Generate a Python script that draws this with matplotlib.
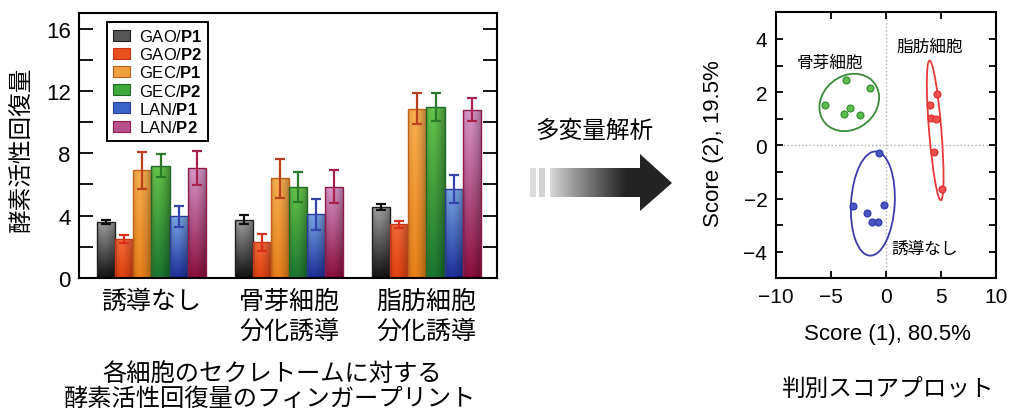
import numpy as np
import matplotlib
matplotlib.use('Agg')
import matplotlib.pyplot as plt
from matplotlib.patches import Ellipse, Polygon, Rectangle, Patch
from matplotlib.colors import to_rgb
from matplotlib.ticker import MultipleLocator

plt.rcParams['font.family'] = ['Liberation Sans', 'Noto Sans CJK JP']
plt.rcParams['mathtext.fontset'] = 'custom'
plt.rcParams['mathtext.rm'] = 'Liberation Sans'
plt.rcParams['mathtext.bf'] = 'Liberation Sans:bold'

# bar chart: enzyme activity recovery per secretome
conditions = ['誘導なし', '骨芽細胞\n分化誘導', '脂肪細胞\n分化誘導']
probes = ['GAO/$\\mathbf{P1}$', 'GAO/$\\mathbf{P2}$', 'GEC/$\\mathbf{P1}$',
          'GEC/$\\mathbf{P2}$', 'LAN/$\\mathbf{P1}$', 'LAN/$\\mathbf{P2}$']
recovery = [
    [3.6, 2.5, 6.9, 7.2, 3.95, 7.05],
    [3.75, 2.3, 6.4, 5.85, 4.1, 5.85],
    [4.55, 3.45, 10.85, 11.0, 5.7, 10.8],
]
recovery_err = [
    [0.15, 0.25, 1.2, 0.75, 0.65, 1.1],
    [0.28, 0.55, 1.25, 0.95, 1.0, 1.05],
    [0.2, 0.22, 1.0, 0.9, 0.9, 0.75],
]
top_colors = ['#a0a0a0', '#f46a38', '#f8b050', '#66c64a', '#78a8e6', '#d898cc']
bottom_colors = ['#121212', '#e0400f', '#e8801a', '#1a7630', '#1e2e9c', '#8c0e3c']
legend_colors = ['#555555', '#e8501e', '#f0a040', '#3ea83a', '#3a64c8', '#b8508c']
edge_colors = ['#202020', '#c83818', '#c0601a', '#1e6a26', '#2a3a96', '#901a48']
err_colors = ['#101010', '#d8301c', '#b8401c', '#2a7a2a', '#3444a8', '#a8204c']

# discriminant score plot
osteo_x = [-3.6, -1.45, -5.48, -3.3, -3.76, -2.39]
osteo_y = [2.46, 2.14, 1.52, 1.39, 1.18, 1.14]
adipo_x = [4.6, 4.03, 4.06, 4.55, 4.36, 5.12]
adipo_y = [1.94, 1.52, 1.04, 1.0, -0.24, -1.66]
none_x = [-0.64, -0.15, -3.0, -1.7, -1.27, -0.67]
none_y = [-0.29, -2.23, -2.29, -2.53, -2.89, -2.89]
# (center x, center y, width, height, angle)
osteo_ell = (-3.32, 1.61, 5.43, 2.12, 4.6)
adipo_ell = (4.48, 0.56, 5.35, 1.10, -78.5)
none_ell = (-1.18, -2.19, 4.18, 3.72, 40)

W, H = 1009, 410
fig = plt.figure(figsize=(W / 100, H / 100), dpi=100)


def fx(px):
    return px / W


def fy(py):
    return 1 - py / H


def gradient_fill(ax, patch, top, bottom):
    x0, y0 = patch.get_x(), patch.get_y()
    w, h = patch.get_width(), patch.get_height()
    v = np.linspace(1, 0, 64)[:, None, None]
    col = np.array(to_rgb(bottom)) * (1 - v) + np.array(to_rgb(top)) * v
    u = np.linspace(0, 1, 32)[None, :, None]
    shade = 1 - 0.3 * (np.abs(u - 0.35) / 0.65) ** 1.5
    img = np.clip(col * shade, 0, 1)
    im = ax.imshow(img, extent=(x0, x0 + w, y0, y0 + h), aspect='auto',
                   origin='upper', interpolation='bilinear', zorder=1)
    im.set_clip_path(patch)


# ---- left: bar chart ----
ax = fig.add_axes([fx(79), fy(279), fx(497 - 79), (279 - 14) / H])
n = len(probes)
bw = 0.132
xs = np.arange(len(conditions))
for j in range(n):
    vals = [recovery[i][j] for i in range(len(conditions))]
    errs = [recovery_err[i][j] for i in range(len(conditions))]
    pos = xs + (j - (n - 1) / 2) * bw
    bars = ax.bar(pos, vals, width=bw, facecolor='none',
                  edgecolor=edge_colors[j], linewidth=1.0, zorder=2)
    for b in bars:
        gradient_fill(ax, b, top_colors[j], bottom_colors[j])
    ax.errorbar(pos, vals, yerr=errs, fmt='none', ecolor=err_colors[j],
                elinewidth=1.6, capsize=3.5, capthick=1.6, zorder=3)

ax.set_xlim(-0.527, 2.513)
ax.set_ylim(0, 17)
ax.yaxis.set_major_locator(MultipleLocator(4))
ax.yaxis.set_minor_locator(MultipleLocator(2))
ax.tick_params(axis='y', which='both', direction='in', length=10, width=1.3,
               right=True, labelsize=16, pad=6)
ax.set_xticks(xs)
ax.set_xticklabels(conditions, fontsize=18, linespacing=1.3)
ax.tick_params(axis='x', length=0, pad=8)
for s in ax.spines.values():
    s.set_linewidth(1.5)

handles = [Patch(facecolor=c, edgecolor=e, linewidth=0.8)
           for c, e in zip(legend_colors, edge_colors)]
leg = ax.legend(handles, probes, loc='upper left', bbox_to_anchor=(0.067, 0.965),
                borderaxespad=0, fontsize=12, handlelength=1.0, handleheight=0.65,
                handletextpad=0.55, labelspacing=0.13, fancybox=False,
                borderpad=0.35, framealpha=1)
leg.get_frame().set_edgecolor('black')
leg.get_frame().set_linewidth(1.4)
leg.set_zorder(5)

fig.text(fx(22), fy(149), '酵素活性回復量', rotation=90, ha='center', va='center',
         fontsize=17)
fig.text(fx(272), fy(375), '各細胞のセクレトームに対する',
         ha='center', va='center', fontsize=17.5)
fig.text(fx(270), fy(400), '酵素活性回復量のフィンガープリント',
         ha='center', va='center', fontsize=17.5)

# ---- right: score plot ----
ax2 = fig.add_axes([fx(775.7), fy(279.3), fx(996 - 775.7), (279.3 - 13.3) / H])
ax2.axhline(0, color='#b0b0b0', linestyle=':', linewidth=1, zorder=0)
ax2.axvline(0, color='#b0b0b0', linestyle=':', linewidth=1, zorder=0)
groups = [
    (osteo_x, osteo_y, osteo_ell, '#5cbc4c', '#2e8a2e', '#3a8a3a'),
    (adipo_x, adipo_y, adipo_ell, '#f05050', '#e02828', '#e83838'),
    (none_x, none_y, none_ell, '#4a56c4', '#2a36a8', '#3c3ca8'),
]
for gx, gy, (cx, cy, ew, eh, ea), face, edge, line in groups:
    ax2.add_patch(Ellipse((cx, cy), ew, eh, angle=ea, facecolor='none',
                          edgecolor=line, linewidth=1.3))
    ax2.plot(gx, gy, 'o', ms=5, mfc=face, mec=edge, mew=0.8)

ax2.text(-5.06, 3.12, '骨芽細胞', ha='center', va='center', fontsize=12)
ax2.text(4.03, 3.72, '脂肪細胞', ha='center', va='center', fontsize=12)
ax2.text(3.48, -3.88, '誘導なし', ha='center', va='center', fontsize=12)

ax2.set_xlim(-10, 10)
ax2.set_ylim(-5, 5)
ax2.xaxis.set_major_locator(MultipleLocator(5))
ax2.yaxis.set_major_locator(MultipleLocator(2))
ax2.yaxis.set_minor_locator(MultipleLocator(1))
ax2.tick_params(which='both', direction='in', length=5, width=1.3,
                top=True, right=True, labelsize=15, pad=6)
for s in ax2.spines.values():
    s.set_linewidth(1.5)

fig.text(fx(887), fy(335), 'Score (1), 80.5%', ha='center', va='center', fontsize=16)
fig.text(fx(714), fy(144), 'Score (2), 19.5%', rotation=90, ha='center', va='center',
         fontsize=16)
fig.text(fx(887), fy(390), '判別スコアプロット', ha='center', va='center', fontsize=17)

# ---- middle: arrow ----
ov = fig.add_axes([0, 0, 1, 1], zorder=-1)
ov.patch.set_alpha(0)
ov.axis('off')
arrow = Polygon([(550, 169), (640, 169), (640, 155), (672, 184), (640, 212),
                 (640, 198), (550, 198)], closed=True, facecolor='none', edgecolor='none')
ov.add_patch(arrow)
t = np.linspace(0, 1, 256)
level = np.clip(0.86 - 0.72 * np.clip(t / 0.62, 0, 1) ** 0.9, 0.14, 1)
img = np.repeat(level[None, :, None], 3, axis=2)
im = ov.imshow(img, extent=(550, 672, 212, 155), aspect='auto', interpolation='bilinear')
im.set_clip_path(arrow)
ov.add_patch(Rectangle((530, 169), 6, 29, facecolor='#dcdcdc', edgecolor='none'))
ov.add_patch(Rectangle((539, 169), 6, 29, facecolor='#d2d2d2', edgecolor='none'))
ov.set_xlim(0, W)
ov.set_ylim(H, 0)
fig.text(fx(595), fy(132), '多変量解析', ha='center', va='center', fontsize=17)

fig.savefig('out.png', dpi=100)
